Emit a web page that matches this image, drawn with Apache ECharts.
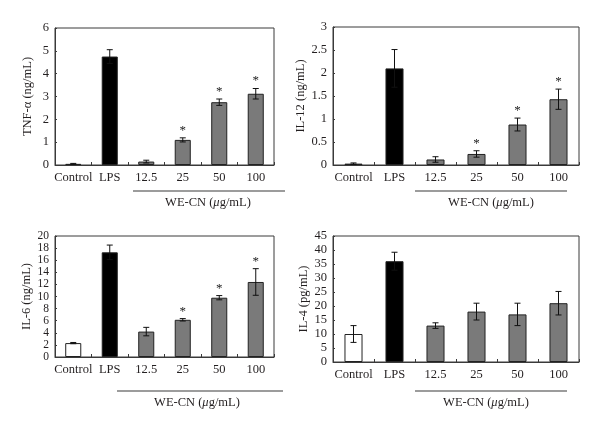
<!DOCTYPE html>
<html><head><meta charset="utf-8">
<script src="https://cdn.jsdelivr.net/npm/echarts@6/dist/echarts.min.js"></script>
<style>html,body{margin:0;padding:0;background:#fff}#c{width:600px;height:430px}</style>
</head><body><div id="c"></div>
<script>
var categories = ['Control', 'LPS', '12.5', '25', '50', '100'];
var tnfValues = [0.05, 4.75, 0.15, 1.1, 2.75, 3.12];
var tnfErrors = [0.02, 0.3, 0.06, 0.09, 0.14, 0.23];
var il12Values = [0.03, 2.1, 0.12, 0.24, 0.88, 1.43];
var il12Errors = [0.015, 0.41, 0.06, 0.07, 0.14, 0.22];
var il6Values = [2.3, 17.3, 4.2, 6.15, 9.8, 12.4];
var il6Errors = [0.1, 1.2, 0.7, 0.2, 0.35, 2.2];
var il4Values = [10, 36, 13, 18, 17, 21];
var il4Errors = [3, 3.2, 1, 3, 4, 4.2];
var signif = [false, false, false, true, true, true];
var noSignif = [false, false, false, false, false, false];
var panelNames = ['TNF-α (ng/mL)', 'IL-12 (ng/mL)', 'IL-6 (ng/mL)', 'IL-4 (pg/mL)'];
var yMax = [6, 3, 20, 45];
var yInterval = [1, 0.5, 2, 5];
var groupLabelPre = 'WE-CN (';
var groupLabelMu = 'μ';
var groupLabelPost = 'g/mL)';

var FONT = 'Liberation Serif';
var TXT = '#231f20';
var fills = ['#ffffff', '#000000', '#7a7a7a', '#7a7a7a', '#7a7a7a', '#7a7a7a'];

var grids = [
  {left: 55, top: 28, width: 219, height: 137},
  {left: 333, top: 27, width: 246, height: 138},
  {left: 55, top: 236, width: 219, height: 121},
  {left: 333, top: 236, width: 246, height: 126}
];
var panelData = [
  [tnfValues, tnfErrors, signif],
  [il12Values, il12Errors, signif],
  [il6Values, il6Errors, signif],
  [il4Values, il4Errors, noSignif]
];

var option = {
  animation: false,
  backgroundColor: '#fff',
  grid: grids.map(function (g) { return Object.assign({show: true, borderColor: '#3a3a3a', borderWidth: 1}, g); }),
  xAxis: grids.map(function (g, i) {
    return {
      type: 'category', gridIndex: i, data: categories,
      axisLine: {lineStyle: {color: '#3a3a3a', width: 1}},
      axisTick: {show: true, inside: true, length: 3, lineStyle: {color: '#3a3a3a'}},
      axisLabel: {fontFamily: FONT, fontSize: 12.5, color: TXT, margin: 6, interval: 0}
    };
  }),
  yAxis: grids.map(function (g, i) {
    return {
      type: 'value', gridIndex: i, min: 0, max: yMax[i], interval: yInterval[i],
      name: panelNames[i], nameLocation: 'middle', nameGap: i % 2 === 0 ? 21 : 22, nameRotate: 90,
      nameTextStyle: {fontFamily: FONT, fontSize: 12.5, color: TXT},
      splitLine: {show: false},
      axisLine: {show: true, lineStyle: {color: '#3a3a3a', width: 1}},
      axisTick: {show: true, inside: true, length: 2, lineStyle: {color: '#3a3a3a'}},
      axisLabel: {fontFamily: FONT, fontSize: i === 2 ? 11.5 : 12.5, color: TXT, margin: 6,
        showMinLabel: true, showMaxLabel: true, hideOverlap: false}
    };
  }),
  series: [],
  graphic: []
};

panelData.forEach(function (pd, i) {
  var vals = pd[0], errs = pd[1], sig = pd[2];
  option.series.push({
    type: 'bar', xAxisIndex: i, yAxisIndex: i, barWidth: '44%',
    data: vals.map(function (v, k) {
      return {value: v, itemStyle: {color: fills[k], borderColor: '#222', borderWidth: 1}};
    }),
    z: 2
  });
  option.series.push({
    type: 'custom', xAxisIndex: i, yAxisIndex: i, z: 5,
    data: vals.map(function (v, k) { return [k, v, errs[k], sig[k] ? 1 : 0]; }),
    renderItem: function (params, api) {
      var k = api.value(0), v = api.value(1), e = api.value(2), s = api.value(3);
      var top = api.coord([k, v + e]);
      var bot = api.coord([k, Math.max(v - e, 0)]);
      var hw = 3;
      var style = {stroke: '#111', lineWidth: 1};
      var children = [
        {type: 'line', shape: {x1: top[0], y1: top[1], x2: bot[0], y2: bot[1]}, style: style},
        {type: 'line', shape: {x1: top[0] - hw, y1: top[1], x2: top[0] + hw, y2: top[1]}, style: style},
        {type: 'line', shape: {x1: bot[0] - hw, y1: bot[1], x2: bot[0] + hw, y2: bot[1]}, style: style}
      ];
      if (s) {
        children.push({type: 'text', style: {text: '*', x: top[0], y: top[1] - 1, align: 'center', verticalAlign: 'bottom',
          fontFamily: FONT, fontSize: 13, fill: '#222'}});
      }
      return {type: 'group', children: children};
    }
  });
});

var lines = [
  {x1: 133, x2: 285, y: 191, tx: 208, ty: 203},
  {x1: 415, x2: 567, y: 191, tx: 491, ty: 203},
  {x1: 117, x2: 283, y: 391, tx: 197, ty: 403},
  {x1: 415, x2: 567, y: 391, tx: 486, ty: 403}
];
lines.forEach(function (l) {
  option.graphic.push({type: 'line', shape: {x1: l.x1, y1: l.y, x2: l.x2, y2: l.y}, style: {stroke: '#3a3a3a', lineWidth: 1.2}});
  option.graphic.push({type: 'text', x: l.tx, y: l.ty, style: {
    text: groupLabelPre + '{mu|' + groupLabelMu + '}' + groupLabelPost,
    rich: {mu: {fontFamily: FONT, fontSize: 12.5, fontStyle: 'italic', fill: TXT}},
    fontFamily: FONT, fontSize: 12.5, fill: TXT, align: 'center', verticalAlign: 'middle'}});
});

var chart = echarts.init(document.getElementById('c'), null, {renderer: 'canvas'});
chart.setOption(option);
</script>
</body></html>
